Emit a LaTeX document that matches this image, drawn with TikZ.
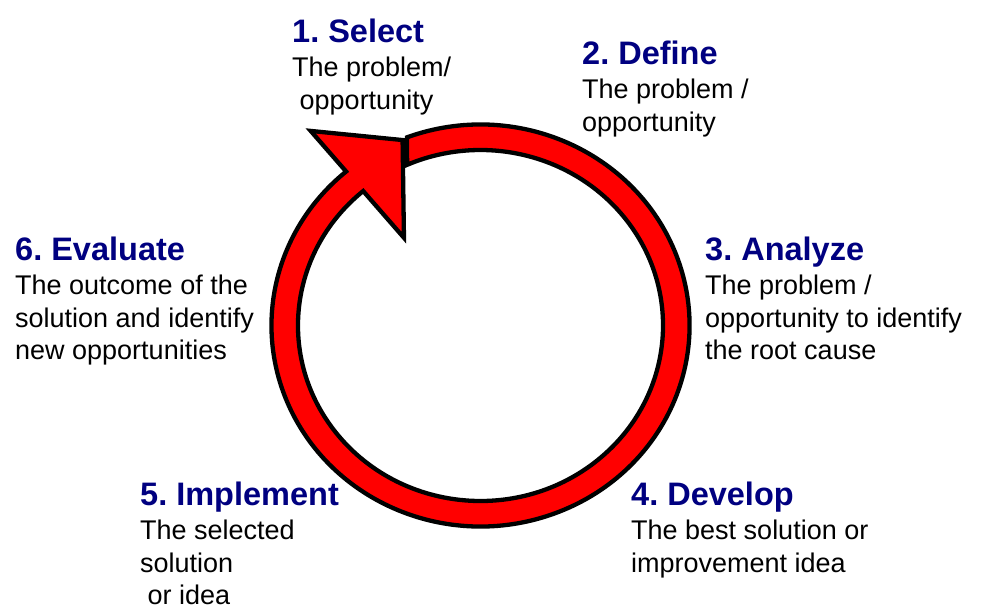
\documentclass[tikz,border=0pt]{standalone}
\usepackage{fontspec}
\setmainfont{Liberation Sans}
\frenchspacing
\definecolor{navy}{RGB}{0,0,128}
\definecolor{ringred}{RGB}{255,0,0}
\newcommand\bodyfont{\fontsize{27pt}{32.5pt}\selectfont}
\newcommand\titlefont{\fontsize{32.5pt}{32.5pt}\selectfont\bfseries\color{navy}}
\newcommand\steptext[2]{\begin{tabular}[t]{@{}l@{}}{\titlefont #1}\\[2pt]#2\end{tabular}}
\tikzset{
  steplabel/.style={anchor=base west, inner sep=0pt, font=\bodyfont},
  ring/.style={fill=ringred, draw=black, line width=4.3pt, line join=miter}
}
\begin{document}
\begin{tikzpicture}[x=1pt,y=-1pt]
\useasboundingbox (0,0) rectangle (988,613);
\begin{scope}[shift={(480.5,325.5)}, xscale=1.04, yscale=-1]
  \draw[ring] (110.6:201) arc[start angle=110.6, end angle=-230, radius=201]
    -- (-230:254) -- (112:200) -- (-230:114.5) -- (-230:175.5)
    arc[start angle=-230, end angle=113.7, radius=175.5] -- cycle;
\end{scope}
\node[steplabel] (s1) at (292,42) {\steptext{1. Select}{The problem/\\\ opportunity}};
\node[steplabel] (s2) at (582,64) {\steptext{2. Define}{The problem /\\opportunity}};
\node[steplabel] (s3) at (705,260) {\steptext{3. Analyze}{The problem /\\opportunity to identify\\the root cause}};
\node[steplabel] (s4) at (631,505) {\steptext{4. Develop}{The best solution or\\improvement idea}};
\node[steplabel] (s5) at (140,505) {\steptext{5. Implement}{The selected\\solution\\\ or idea}};
\node[steplabel] (s6) at (15,260) {\steptext{6. Evaluate}{The outcome of the\\solution and identify\\new opportunities}};
\end{tikzpicture}
\end{document}
